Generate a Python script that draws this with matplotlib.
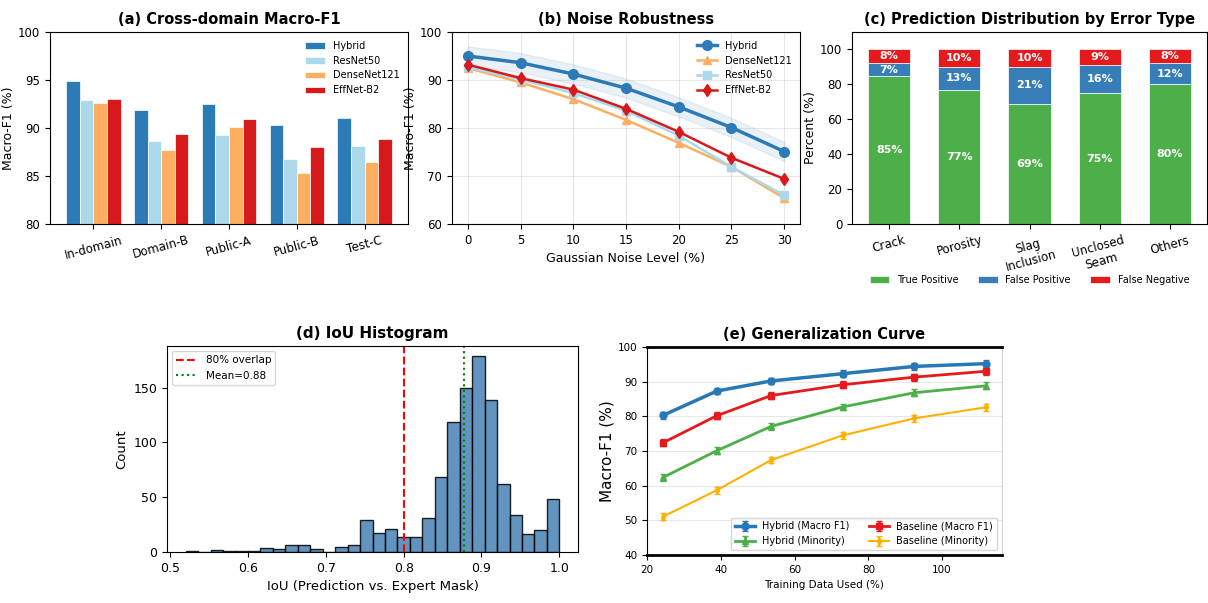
import numpy as np
import matplotlib
matplotlib.use('Agg')
import matplotlib.pyplot as plt

# (a) cross-domain macro-F1
domains = ['In-domain', 'Domain-B', 'Public-A', 'Public-B', 'Test-C']
models_a = ['Hybrid', 'ResNet50', 'DenseNet121', 'EffNet-B2']
f1_hybrid = [94.9, 91.9, 92.5, 90.3, 91.0]
f1_resnet = [92.9, 88.6, 89.3, 86.8, 88.1]
f1_dense = [92.6, 87.7, 90.1, 85.3, 86.5]
f1_eff = [93.0, 89.4, 90.9, 88.0, 88.9]

# (b) noise robustness
noise_levels = [0, 5, 10, 15, 20, 25, 30]
noise_hybrid = [95.0, 93.6, 91.25, 88.3, 84.4, 80.1, 75.1]
noise_hybrid_err = [2.0, 2.0, 2.0, 2.0, 2.0, 2.0, 2.0]
noise_dense = [92.5, 89.5, 86.0, 81.7, 76.9, 71.9, 65.4]
noise_resnet = [92.7, 90.1, 87.3, 83.6, 78.4, 71.9, 66.0]
noise_eff = [93.2, 90.4, 88.0, 84.0, 79.2, 73.8, 69.4]

# (c) prediction distribution
defects = ['Crack', 'Porosity', 'Slag\nInclusion', 'Unclosed\nSeam', 'Others']
true_pos = [85, 77, 69, 75, 80]
false_pos = [7, 13, 21, 16, 12]
false_neg = [8, 10, 10, 9, 8]

# (d) IoU histogram (counts per bin)
iou_edges = np.linspace(0.52, 1.0, 31)
iou_counts = [1, 0, 2, 1, 1, 1, 4, 3, 6, 6, 3, 0, 5, 6, 29,
              17, 21, 14, 14, 31, 68, 119, 150, 179, 139, 62, 34, 16, 20, 48]
iou_mean = 0.877

# (e) generalization curve
train_used = [24.3, 38.9, 53.6, 73.0, 92.4, 111.9]
gen_hybrid_macro = [80.3, 87.3, 90.2, 92.3, 94.4, 95.2]
gen_base_macro = [72.4, 80.2, 86.0, 89.1, 91.3, 93.0]
gen_hybrid_min = [62.4, 70.1, 77.1, 82.7, 86.8, 88.8]
gen_base_min = [51.1, 58.7, 67.4, 74.5, 79.4, 82.6]
gen_err = [1.0, 1.0, 1.0, 1.0, 1.0, 1.0]

c_hybrid = '#2c7bb6'
c_resnet = '#abd9e9'
c_dense = '#fdae61'
c_eff = '#d7191c'

plt.rcParams['xtick.labelsize'] = 8.5
plt.rcParams['ytick.labelsize'] = 8.5

fig = plt.figure(figsize=(12.08, 6.03), dpi=100)
W, H = 1208, 603


def px_axes(l, t, r, b):
    return fig.add_axes([l / W, 1 - b / H, (r - l) / W, (b - t) / H])


title_kw = dict(fontsize=10.5, fontweight='bold')

# ---- (a)
ax = px_axes(50, 32, 408, 224)
x = np.arange(len(domains))
w = 0.2
for i, (vals, col, lab) in enumerate(zip([f1_hybrid, f1_resnet, f1_dense, f1_eff],
                                         [c_hybrid, c_resnet, c_dense, c_eff], models_a)):
    ax.bar(x + (i - 1.5) * w, vals, w, color=col, label=lab, edgecolor='white', linewidth=0.5)
ax.set_ylim(80, 100)
ax.set_yticks([80, 85, 90, 95, 100])
ax.set_xticks(x)
ax.set_xticklabels(domains, rotation=15)
ax.set_ylabel('Macro-F1 (%)', fontsize=9, labelpad=2)
ax.set_title('(a) Cross-domain Macro-F1', **title_kw)
ax.legend(loc='upper right', fontsize=7, frameon=False)

# ---- (b)
ax = px_axes(452, 32, 800, 224)
hy = np.array(noise_hybrid)
he = np.array(noise_hybrid_err)
ax.fill_between(noise_levels, hy - he, hy + he, color=c_hybrid, alpha=0.1)
ax.plot(noise_levels, noise_hybrid, '-o', color=c_hybrid, lw=2.5, ms=7, label='Hybrid')
ax.plot(noise_levels, noise_dense, '-^', color=c_dense, lw=1.8, ms=6, label='DenseNet121')
ax.plot(noise_levels, noise_resnet, '-s', color=c_resnet, lw=1.8, ms=6, label='ResNet50')
ax.plot(noise_levels, noise_eff, '-d', color=c_eff, lw=1.8, ms=6, label='EffNet-B2')
ax.set_ylim(60, 100)
ax.set_yticks([60, 70, 80, 90, 100])
ax.set_xticks(noise_levels)
ax.grid(True, alpha=0.3)
ax.set_xlabel('Gaussian Noise Level (%)', fontsize=9)
ax.set_ylabel('Macro-F1 (%)', fontsize=9, labelpad=2)
ax.set_title('(b) Noise Robustness', **title_kw)
ax.legend(loc='upper right', fontsize=7, frameon=False)

# ---- (c)
ax = px_axes(852, 32, 1207, 224)
xc = np.arange(len(defects))
tp = np.array(true_pos)
fp = np.array(false_pos)
fn = np.array(false_neg)
ax.bar(xc, tp, 0.6, color='#4daf4a', label='True Positive', edgecolor='white', linewidth=0.5)
ax.bar(xc, fp, 0.6, bottom=tp, color='#377eb8', label='False Positive', edgecolor='white', linewidth=0.5)
ax.bar(xc, fn, 0.6, bottom=tp + fp, color='#e41a1c', label='False Negative', edgecolor='white', linewidth=0.5)
for i in range(len(defects)):
    ax.text(xc[i], tp[i] / 2, f'{tp[i]}%', ha='center', va='center', color='white', fontsize=8, fontweight='bold')
    ax.text(xc[i], tp[i] + fp[i] / 2, f'{fp[i]}%', ha='center', va='center', color='white', fontsize=8, fontweight='bold')
    ax.text(xc[i], tp[i] + fp[i] + fn[i] / 2, f'{fn[i]}%', ha='center', va='center', color='white', fontsize=8, fontweight='bold')
ax.set_ylim(0, 110)
ax.set_yticks([0, 20, 40, 60, 80, 100])
ax.set_xticks(xc)
ax.set_xticklabels(defects, rotation=15)
ax.set_ylabel('Percent (%)', fontsize=9, labelpad=2)
ax.set_title('(c) Prediction Distribution by Error Type', **title_kw)
ax.legend(loc='center', bbox_to_anchor=(0.5, -0.29), ncol=3, fontsize=7, frameon=False)

# ---- (d)
ax = px_axes(167, 346, 578, 552)
centers = (iou_edges[:-1] + iou_edges[1:]) / 2
ax.hist(centers, bins=iou_edges, weights=iou_counts, color='#4682b4', alpha=0.85, edgecolor='black')
ax.axvline(0.8, color='red', ls='--', lw=1.5, label='80% overlap')
ax.axvline(iou_mean, color='green', ls=':', lw=1.5, label=f'Mean={iou_mean:.2f}')
ax.set_yticks([0, 50, 100, 150])
ax.tick_params(labelsize=9)
ax.set_xlabel('IoU (Prediction vs. Expert Mask)', fontsize=9.5)
ax.set_ylabel('Count', fontsize=9.5)
ax.set_title('(d) IoU Histogram', fontsize=11, fontweight='bold')
ax.legend(loc='upper left', fontsize=7.5)

# ---- (e)
ax = px_axes(647, 347, 1002, 555)
ax.errorbar(train_used, gen_hybrid_macro, yerr=gen_err, fmt='-o', color='#2878b5', lw=2.5, ms=5, capsize=2, label='Hybrid (Macro F1)')
ax.errorbar(train_used, gen_hybrid_min, yerr=gen_err, fmt='-^', color='#4daf4a', lw=2, ms=5, capsize=2, label='Hybrid (Minority)')
ax.errorbar(train_used, gen_base_macro, yerr=gen_err, fmt='-s', color='#e41a1c', lw=2, ms=5, capsize=2, label='Baseline (Macro F1)')
ax.errorbar(train_used, gen_base_min, yerr=gen_err, fmt='-d', color='#ffb000', lw=1.5, ms=4, capsize=2, label='Baseline (Minority)')
ax.set_ylim(40, 100)
ax.grid(True, axis='y', alpha=0.3)
ax.set_xlabel('Training Data Used (%)', fontsize=7.5)
ax.set_ylabel('Macro-F1 (%)', fontsize=11, labelpad=2)
ax.tick_params(labelsize=7.5)
ax.set_title('(e) Generalization Curve', fontsize=10.5, fontweight='bold')
ax.spines['top'].set_linewidth(2)
ax.spines['bottom'].set_linewidth(2)
ax.spines['right'].set_color('lightgray')
ax.legend(loc='lower right', ncol=2, fontsize=7)

fig.savefig('out.png', dpi=100)
